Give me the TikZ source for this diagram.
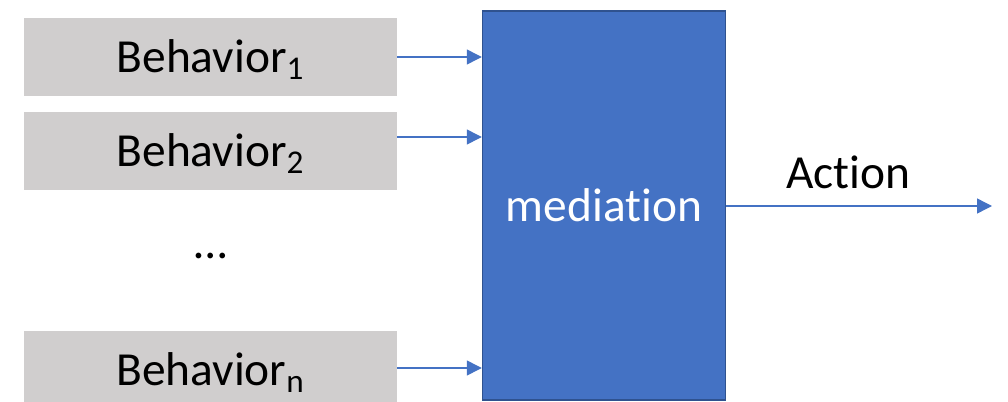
\documentclass[tikz,border=0pt]{standalone}
\usepackage{fontspec}
\setmainfont{Carlito}[Ligatures=CommonOff]
\usepackage{tikz}
\usetikzlibrary{arrows.meta,positioning,calc}
\definecolor{behgray}{HTML}{D0CECE}
\definecolor{medblue}{HTML}{4472C4}
\definecolor{mededge}{HTML}{2F528F}

\begin{document}
\begin{tikzpicture}[x=0.02cm, y=-0.02cm, >={Triangle[length=0.3cm,width=0.3cm]},
   label text/.style={font=\fontsize{27}{32}\selectfont, text height=0.64cm, text depth=0cm},
   behavior/.style={label text, fill=behgray, minimum width=7.46cm, minimum height=1.56cm, inner sep=0pt},
   mediator/.style={label text, fill=medblue, draw=mededge, line width=0.85pt, minimum width=4.86cm,
     minimum height=7.78cm, inner sep=0pt, text=white},
   flow/.style={->, draw=medblue, line width=0.8pt}]
  \useasboundingbox (0,0) rectangle (1008,402);
  \clip (0,0) rectangle (1008,402);
  \node[behavior] (b1) at (210.5, 57) {Behavior\textsubscript{1}};
  \node[behavior] (b2) at (210.5, 151) {Behavior\textsubscript{2}};
  \node[label text] (dots) at (210.5, 243) {…};
  \node[behavior] (bn) at (210.5, 370) {Behavior\textsubscript{n}};
  \node[mediator] (med) at (604, 205.5) {mediation};
  \coordinate (out) at (992, 206);
  % inputs
  \path[flow] (b1.east) -- (b1.east -| med.west);
  \path[flow] ([yshift=0.28cm]b2.east) -- ([yshift=0.28cm]b2.east -| med.west);
  \path[flow] ([yshift=0.04cm]bn.east) -- ([yshift=0.04cm]bn.east -| med.west);
  % output
  \path[flow] (med.east |- out) -- node[above=6pt, pos=0.46, font=\fontsize{27}{32}\selectfont] (act) {Action} (out);
\end{tikzpicture}
\end{document}
